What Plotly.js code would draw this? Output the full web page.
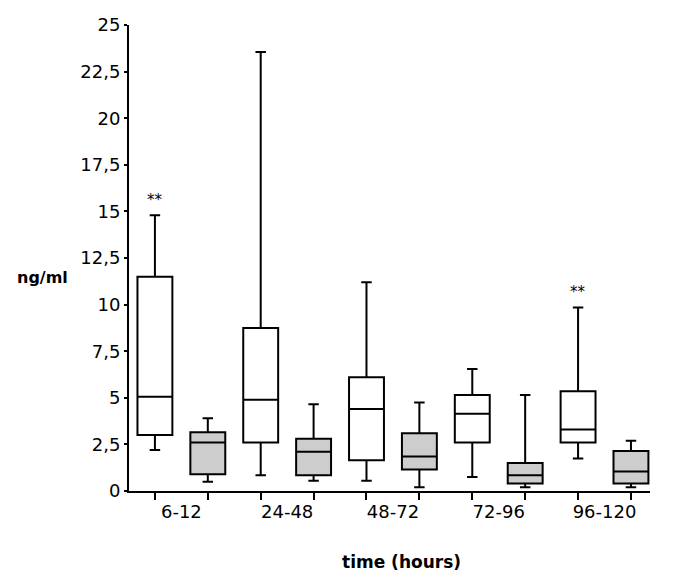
<!DOCTYPE html>
<html>
<head>
<meta charset="utf-8">
<script src="https://cdn.plot.ly/plotly-3.0.1.min.js"></script>
<style>
  html, body { margin: 0; padding: 0; background: #ffffff; }
  #chart { width: 685px; height: 584px; }
</style>
</head>
<body>
<div id="chart"></div>
<script>
// Time intervals (hours)
const groups = ["6-12", "24-48", "48-72", "72-96", "96-120"];

// White boxes (first series of each pair), ng/ml
const whiteUpper  = [14.8, 23.55, 11.2, 6.55, 9.85];
const whiteQ3     = [11.5, 8.75, 6.1, 5.15, 5.35];
const whiteMedian = [5.05, 4.9, 4.4, 4.15, 3.3];
const whiteQ1     = [3.0, 2.6, 1.65, 2.6, 2.6];
const whiteLower  = [2.2, 0.85, 0.55, 0.75, 1.75];

// Stippled boxes (second series of each pair), ng/ml
const dotUpper  = [3.9, 4.65, 4.75, 5.15, 2.7];
const dotQ3     = [3.15, 2.8, 3.1, 1.5, 2.15];
const dotMedian = [2.6, 2.1, 1.85, 0.85, 1.05];
const dotQ1     = [0.9, 0.85, 1.15, 0.4, 0.4];
const dotLower  = [0.5, 0.55, 0.2, 0.2, 0.2];

// Significance marks on white boxes
const marks = ["**", "", "", "", "**"];

// Y tick labels
const yTickVals = [0, 2.5, 5, 7.5, 10, 12.5, 15, 17.5, 20, 22.5, 25];
const yTickText = ["0", "2,5", "5", "7,5", "10", "12,5", "15", "17,5", "20", "22,5", "25"];

const whitePos = groups.map((g, i) => 2 * i);
const dotPos = groups.map((g, i) => 2 * i + 1);
const groupPos = groups.map((g, i) => 2 * i + 0.5);

const boxCommon = {
  type: 'box',
  width: 0.66,
  whiskerwidth: 0.3,
  boxpoints: false,
  line: { color: '#000000', width: 2 },
  showlegend: false,
  hoverinfo: 'skip'
};

const traces = [
  Object.assign({}, boxCommon, {
    x: whitePos, q1: whiteQ1, median: whiteMedian, q3: whiteQ3,
    lowerfence: whiteLower, upperfence: whiteUpper,
    fillcolor: '#ffffff'
  }),
  Object.assign({}, boxCommon, {
    x: dotPos, q1: dotQ1, median: dotMedian, q3: dotQ3,
    lowerfence: dotLower, upperfence: dotUpper,
    fillcolor: '#cdcdcd'
  })
];

const annotations = [];
marks.forEach((m, i) => {
  if (m) {
    annotations.push({
      x: whitePos[i], y: whiteUpper[i], xref: 'x', yref: 'y',
      text: m, showarrow: false, yanchor: 'bottom', yshift: 4,
      font: { family: 'DejaVu Sans, sans-serif', size: 15, color: '#000' }
    });
  }
});
annotations.push({
  x: 42, y: 277, xref: 'paper', yref: 'paper', text: '<b>ng/ml</b>',
  showarrow: false, xanchor: 'center', yanchor: 'middle',
  font: { family: 'DejaVu Sans, sans-serif', size: 16, color: '#000' }
});
annotations.push({
  x: 401, y: 562, text: '<b>time (hours)</b>', showarrow: false,
  xanchor: 'center', yanchor: 'middle',
  font: { family: 'DejaVu Sans, sans-serif', size: 17, color: '#000' }
});

// convert pixel-positioned label annotations to paper coords
const W = 685, H = 584, mL = 129, mR = 35, mT = 25, mB = 93;
const pw = W - mL - mR, ph = H - mT - mB;
annotations.forEach(a => {
  if (a.xref !== 'x') {
    a.xref = 'paper'; a.yref = 'paper';
    a.x = (a.x - mL) / pw;
    a.y = 1 - (a.y - mT) / ph;
  }
});

const layout = {
  width: W, height: H,
  margin: { l: mL, r: mR, t: mT, b: mB },
  paper_bgcolor: '#ffffff', plot_bgcolor: '#ffffff',
  font: { family: 'DejaVu Sans, sans-serif', size: 18, color: '#000000' },
  xaxis: {
    range: [-0.49, 9.36],
    tickmode: 'array', tickvals: groupPos, ticktext: groups,
    ticks: '', showgrid: false, zeroline: false,
    showline: true, linecolor: '#000000', linewidth: 2,
    ticklabelstandoff: 3,
    minor: { tickmode: 'linear', tick0: 0, dtick: 1, ticks: 'outside', ticklen: 7, tickwidth: 2, tickcolor: '#000000', showgrid: false },
    tickfont: { size: 18 }
  },
  yaxis: {
    range: [0, 25],
    tickmode: 'array', tickvals: yTickVals, ticktext: yTickText,
    ticks: 'outside', ticklen: 3, tickwidth: 2, tickcolor: '#000000',
    showgrid: false, zeroline: false,
    showline: true, linecolor: '#000000', linewidth: 2,
    tickfont: { size: 18 }
  },
  annotations: annotations
};

Plotly.newPlot('chart', traces, layout, { displayModeBar: false, staticPlot: true });
</script>
</body>
</html>
